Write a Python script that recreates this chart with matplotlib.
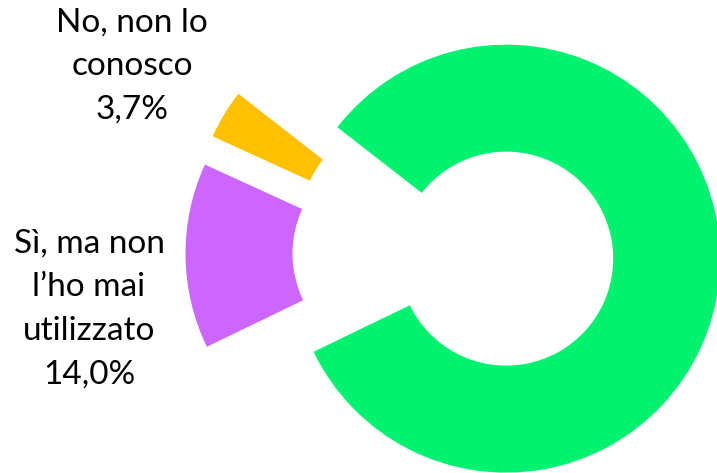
import matplotlib
matplotlib.use('Agg')
import matplotlib.pyplot as plt

# data
categories = ['Sì, lo utilizzo', 'Sì, ma non\nl’ho mai\nutilizzato', 'No, non lo\nconosco']
values = [82.3, 14.0, 3.7]
colors = ['#00F26E', '#CC66FF', '#FFC000']

plt.rcParams['font.family'] = ['Lato', 'DejaVu Sans']

fig = plt.figure(figsize=(7.17, 4.73), dpi=100)
ax = fig.add_axes([0, 0, 1, 1])

radius = 214
# matplotlib's explode is an absolute offset, so scale it by the radius
wedges, _ = ax.pie(values, colors=colors, radius=radius, center=(453, 220),
                   explode=[0.25 * radius] * len(values), startangle=142.1,
                   counterclock=False, wedgeprops=dict(width=radius / 2, linewidth=0))

ax.set_xlim(0, 717)
ax.set_ylim(0, 473)
ax.set_aspect('equal')
ax.axis('off')

label_pos = {1: (89, 164), 2: (132, 407)}
for i, (x, y) in label_pos.items():
    txt = f'{categories[i]}\n{values[i]:.1f}%'.replace('.', ',')
    ax.text(x, y, txt, ha='center', va='center', fontsize=24,
            fontweight='normal', color='#000000', linespacing=1.56)

fig.savefig('out.png', dpi=100)
